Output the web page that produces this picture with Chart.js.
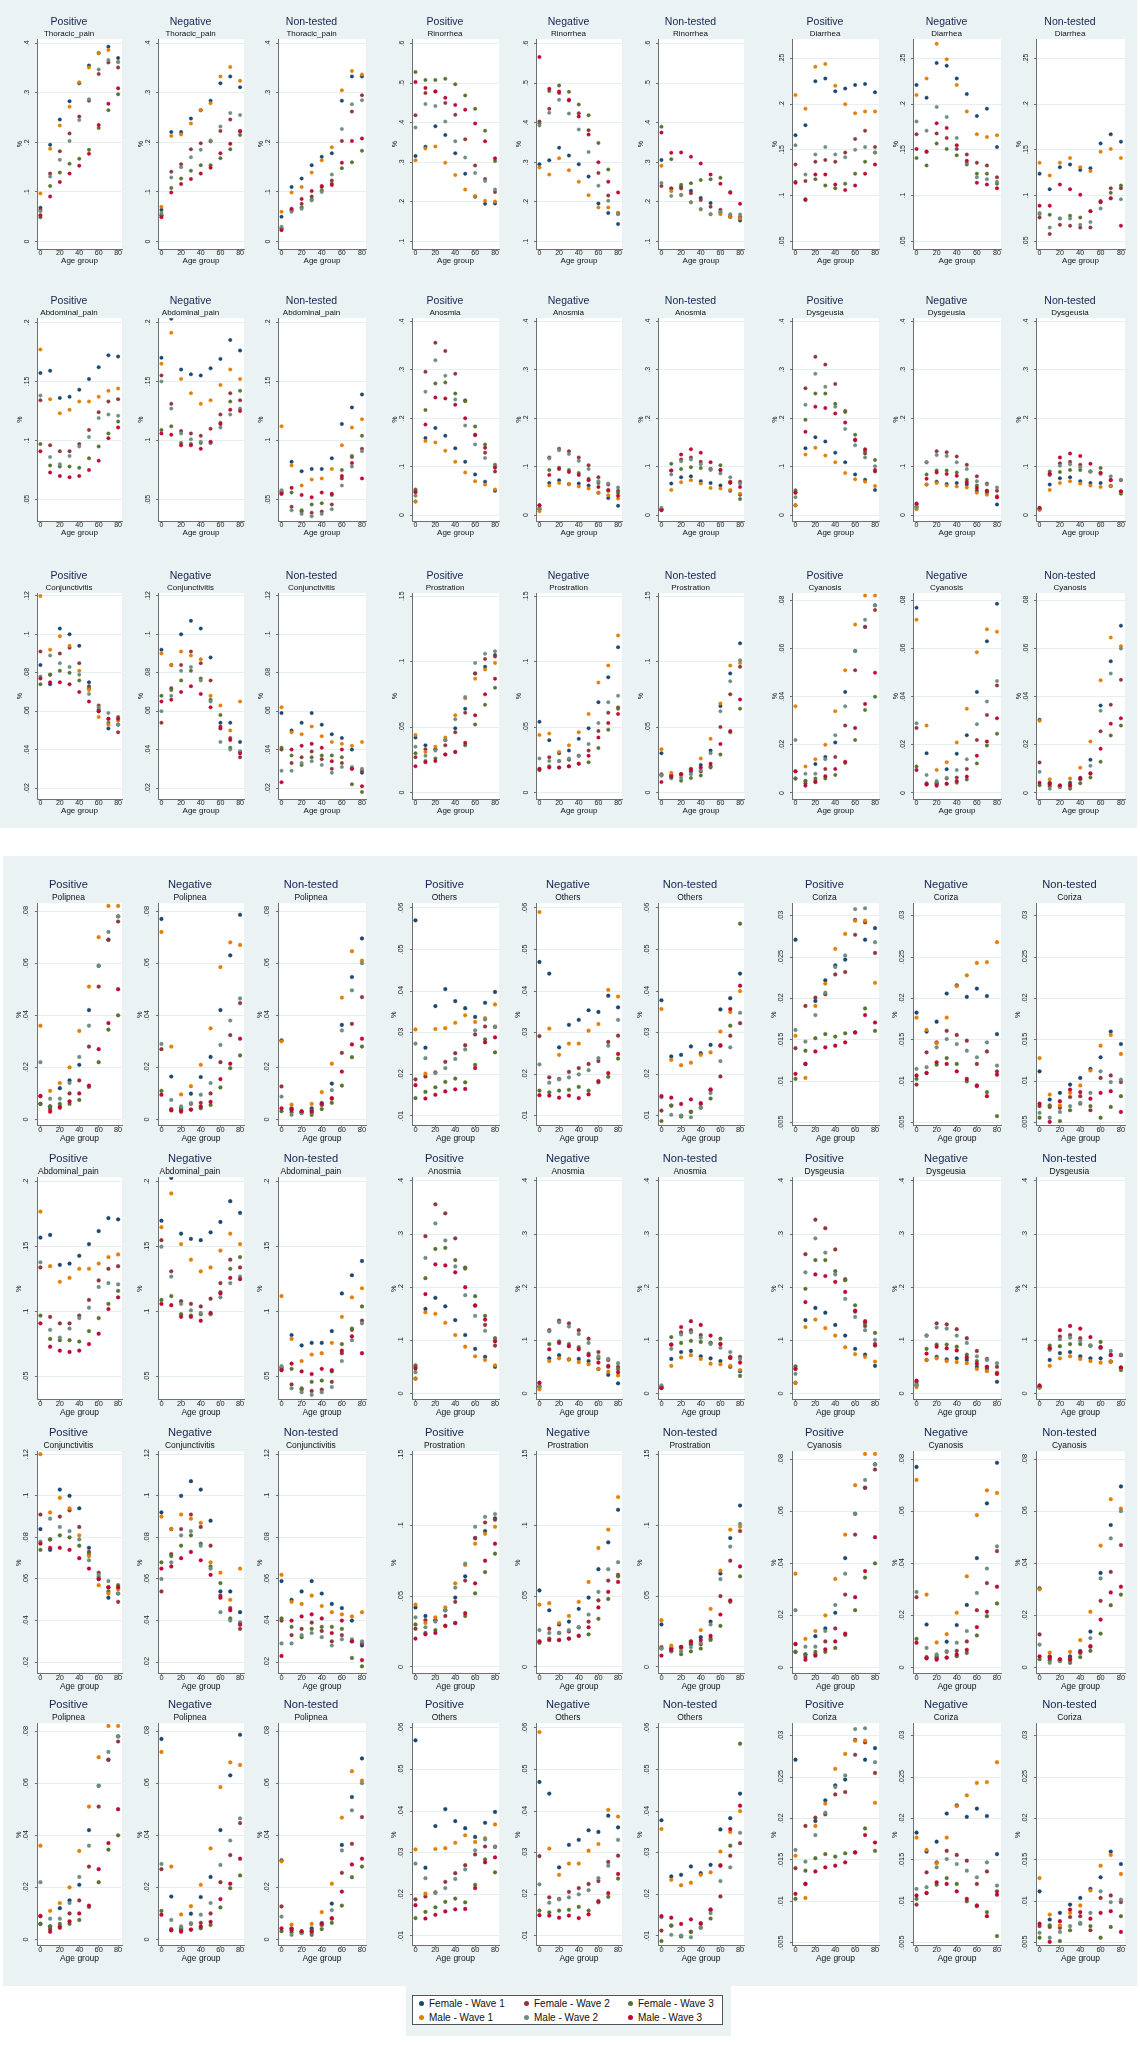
<!DOCTYPE html>
<html>
<head>
<meta charset="utf-8">
<script src="https://cdn.jsdelivr.net/npm/chart.js@4.4.1/dist/chart.umd.min.js"></script>
<style>
  body { margin: 0; width: 1140px; height: 2049px; position: relative; background: #fff; overflow: hidden;
         font-family: "Liberation Sans", Arial, sans-serif; }
  .block { position: absolute; background: #eaf2f3; }
  canvas.panel { position: absolute; }
  #legend { position: absolute; left: 412px; top: 1995px; width: 311px; height: 30px; background: #fff;
            border: 1px solid #555; box-sizing: border-box; display: grid;
            grid-template-columns: 105px 104px 100px; grid-template-rows: 14px 14px; padding: 1px 0 0 4px; }
  #legend div { font-size: 10px; line-height: 14px; color: #111; white-space: nowrap; }
  #legend span { display: inline-block; width: 5px; height: 5px; border-radius: 50%; margin: 0 5px 1px 2px; vertical-align: middle; }
</style>
</head>
<body>
<div class="block" style="left:0;top:0;width:1137px;height:828px"></div>
<div class="block" style="left:3px;top:856px;width:1134px;height:1130px"></div>
<div class="block" style="left:406px;top:1986px;width:325px;height:50px"></div>
<div id="legend"></div>
<script>
// age groups on the x axis and the six series
const AGE_GROUPS = [0, 10, 20, 30, 40, 50, 60, 70, 80];
const AGE_TICKS = [0, 20, 40, 60, 80];
const SERIES = ['Female - Wave 1', 'Female - Wave 2', 'Female - Wave 3', 'Male - Wave 1', 'Male - Wave 2', 'Male - Wave 3'];
const STATUS = ['Positive', 'Negative', 'Non-tested'];

// each array: 6 series (F1, F2, F3, M1, M2, M3) x 9 age groups
const thoracicPos = [
  [.068,.195,.246,.283,.319,.355,.380,.393,.370],
  [.064,.137,.182,.218,.252,.284,.338,.361,.351],
  [.049,.112,.139,.157,.167,.185,.229,.265,.297],
  [.097,.187,.234,.272,.321,.351,.380,.386,.362],
  [.061,.131,.165,.203,.245,.287,.347,.366,.362],
  [.053,.091,.120,.137,.153,.177,.235,.278,.309]];
const thoracicNeg = [
  [.064,.221,.221,.248,.265,.284,.319,.333,.311],
  [.053,.141,.156,.186,.198,.202,.223,.246,.222],
  [.053,.108,.127,.143,.154,.154,.168,.186,.215],
  [.070,.213,.216,.238,.265,.279,.333,.352,.324],
  [.058,.129,.150,.170,.185,.204,.232,.259,.255],
  [.049,.099,.116,.126,.137,.149,.178,.197,.223]];
const thoracicNon = [
  [.050,.110,.127,.154,.171,.178,.284,.333,.333],
  [.026,.064,.076,.091,.110,.123,.203,.262,.295],
  [.027,.062,.069,.085,.103,.117,.148,.160,.183],
  [.060,.099,.110,.139,.164,.190,.305,.344,.337],
  [.030,.060,.066,.083,.100,.135,.227,.277,.285],
  [.023,.066,.086,.102,.112,.114,.159,.203,.208]];

const rinorrheaPos = [
  [.316,.339,.391,.369,.323,.271,.213,.195,.196],
  [.419,.475,.479,.450,.420,.358,.292,.258,.225],
  [.528,.508,.508,.511,.497,.469,.435,.380,.303],
  [.305,.335,.340,.299,.268,.231,.215,.203,.201],
  [.388,.447,.442,.403,.353,.312,.273,.253,.231],
  [.503,.488,.479,.463,.445,.433,.398,.353,.310]];
const rinorrheaNeg = [
  [.295,.305,.337,.317,.295,.264,.196,.172,.144],
  [.403,.435,.475,.456,.424,.381,.273,.216,.172],
  [.398,.480,.494,.478,.446,.419,.349,.282,.170],
  [.287,.269,.310,.280,.251,.217,.186,.186,.172],
  [.393,.425,.458,.423,.383,.326,.241,.203,.169],
  [.566,.486,.479,.458,.416,.370,.300,.251,.224]];
const rinorrheaNon = [
  [.306,.234,.238,.228,.210,.197,.173,.162,.153],
  [.240,.234,.234,.222,.205,.188,.180,.164,.162],
  [.390,.308,.243,.247,.255,.257,.261,.225,.159],
  [.291,.227,.217,.199,.181,.169,.169,.162,.158],
  [.248,.215,.218,.199,.182,.169,.175,.169,.168],
  [.375,.324,.325,.314,.297,.269,.246,.223,.195]];

const diarrheaPos = [
  [.166,.177,.225,.228,.214,.217,.221,.222,.213],
  [.134,.116,.137,.139,.137,.147,.162,.171,.153],
  [.115,.095,.118,.111,.108,.113,.124,.137,.147],
  [.210,.195,.241,.244,.220,.200,.190,.192,.192],
  [.155,.123,.145,.153,.145,.142,.150,.153,.147],
  [.114,.096,.123,.123,.112,.106,.111,.124,.134]];
const diarrheaNeg = [
  [.221,.207,.245,.242,.228,.211,.187,.195,.153],
  [.167,.148,.168,.163,.151,.145,.136,.133,.120],
  [.141,.133,.157,.151,.144,.134,.124,.124,.113],
  [.210,.228,.266,.249,.221,.192,.167,.164,.166],
  [.181,.171,.197,.186,.163,.136,.120,.118,.115],
  [.151,.148,.179,.174,.155,.138,.114,.112,.108]];
const diarrheaNon = [
  [.124,.107,.131,.134,.128,.130,.157,.167,.159],
  [.076,.058,.068,.067,.065,.065,.094,.108,.108],
  [.080,.079,.075,.078,.076,.083,.093,.103,.111],
  [.136,.122,.136,.141,.131,.127,.148,.151,.141],
  [.081,.065,.075,.075,.068,.071,.086,.097,.096],
  [.089,.089,.112,.107,.101,.083,.093,.097,.067]];

const abdominalPos = [
  [.157,.159,.136,.137,.143,.152,.162,.172,.171],
  [.134,.096,.091,.091,.097,.109,.124,.133,.135],
  [.097,.079,.078,.078,.077,.085,.095,.106,.116],
  [.177,.135,.123,.126,.133,.133,.137,.142,.144],
  [.138,.086,.080,.087,.095,.103,.119,.122,.121],
  [.091,.073,.070,.069,.070,.075,.083,.102,.111]];
const abdominalNeg = [
  [.170,.203,.160,.156,.155,.161,.169,.185,.176],
  [.155,.131,.108,.106,.104,.110,.122,.140,.134],
  [.109,.112,.098,.097,.098,.098,.115,.133,.142],
  [.165,.191,.152,.140,.131,.134,.147,.160,.152],
  [.150,.127,.106,.101,.099,.098,.111,.122,.127],
  [.106,.105,.096,.096,.093,.099,.114,.126,.125]];
const abdominalNon = [
  [.057,.082,.074,.076,.076,.085,.114,.128,.139],
  [.055,.044,.040,.039,.040,.046,.068,.086,.093],
  [.056,.056,.041,.046,.047,.054,.075,.087,.104],
  [.112,.079,.062,.067,.068,.076,.096,.111,.118],
  [.058,.041,.038,.036,.038,.042,.062,.078,.091],
  [.055,.060,.054,.052,.056,.055,.070,.081,.068]];

const anosmiaPos = [
  [.028,.159,.180,.164,.138,.110,.084,.069,.050],
  [.050,.296,.356,.339,.292,.237,.165,.129,.090],
  [.053,.217,.272,.274,.251,.235,.183,.146,.104],
  [.028,.153,.150,.133,.110,.088,.070,.063,.053],
  [.040,.255,.320,.288,.239,.185,.146,.118,.100],
  [.047,.187,.243,.241,.228,.200,.166,.139,.098]];
const anosmiaNeg = [
  [.013,.066,.072,.064,.065,.061,.046,.035,.019],
  [.020,.119,.137,.132,.119,.103,.078,.063,.050],
  [.012,.093,.098,.093,.087,.075,.066,.050,.046],
  [.008,.061,.066,.064,.059,.055,.046,.041,.034],
  [.015,.117,.134,.126,.112,.095,.070,.065,.057],
  [.020,.083,.095,.089,.083,.072,.058,.052,.040]];
const anosmiaNon = [
  [.012,.065,.078,.080,.070,.066,.061,.050,.042],
  [.011,.092,.115,.119,.110,.095,.093,.069,.069],
  [.012,.106,.095,.099,.097,.095,.103,.067,.033],
  [.012,.052,.068,.072,.065,.056,.055,.052,.044],
  [.015,.084,.111,.115,.105,.093,.086,.078,.065],
  [.010,.092,.125,.136,.129,.109,.093,.067,.058]];

const dysgeusiaPos = [
  [.020,.138,.161,.152,.129,.109,.084,.073,.052],
  [.047,.262,.327,.311,.271,.215,.154,.127,.090],
  [.051,.197,.251,.251,.230,.213,.166,.132,.114],
  [.020,.125,.139,.123,.109,.087,.074,.069,.060],
  [.037,.228,.292,.265,.224,.178,.144,.119,.101],
  [.046,.172,.224,.221,.210,.191,.156,.136,.093]];
const dysgeusiaNeg = [
  [.015,.063,.069,.064,.066,.063,.050,.046,.022],
  [.022,.109,.132,.130,.121,.104,.080,.065,.050],
  [.018,.084,.092,.092,.088,.073,.061,.050,.039],
  [.012,.063,.066,.061,.059,.057,.046,.042,.037],
  [.016,.109,.124,.122,.109,.095,.070,.063,.057],
  [.024,.075,.088,.085,.081,.068,.056,.050,.037]];
const dysgeusiaNon = [
  [.011,.063,.076,.078,.070,.066,.066,.060,.048],
  [.013,.085,.107,.110,.104,.090,.087,.073,.072],
  [.013,.090,.089,.093,.093,.090,.097,.060,.044],
  [.012,.052,.066,.070,.065,.061,.058,.060,.048],
  [.014,.082,.102,.105,.099,.090,.085,.080,.073],
  [.015,.085,.119,.127,.122,.106,.087,.072,.049]];

const conjunctivitisPos = [
  [.084,.074,.103,.100,.094,.075,.060,.051,.053],
  [.091,.079,.090,.093,.085,.073,.063,.056,.049],
  [.074,.079,.081,.080,.076,.072,.061,.054,.057],
  [.120,.092,.099,.094,.081,.071,.057,.053,.055],
  [.078,.089,.085,.083,.079,.069,.062,.059,.053],
  [.077,.075,.075,.074,.070,.065,.060,.056,.056]];
const conjunctivitisNeg = [
  [.092,.084,.100,.107,.103,.088,.054,.054,.044],
  [.054,.072,.084,.091,.085,.076,.052,.046,.036],
  [.068,.071,.076,.081,.077,.066,.058,.041,.039],
  [.090,.084,.091,.089,.087,.068,.063,.050,.065],
  [.060,.068,.081,.083,.076,.065,.044,.040,.039],
  [.065,.066,.070,.073,.069,.062,.051,.045,.038]];
const conjunctivitisNon = [
  [.059,.050,.054,.059,.053,.048,.046,.040,.028],
  [.040,.033,.036,.039,.035,.030,.033,.030,.029],
  [.041,.037,.032,.036,.037,.037,.036,.022,.018],
  [.062,.049,.048,.052,.047,.044,.043,.042,.044],
  [.029,.029,.033,.034,.032,.028,.031,.031,.030],
  [.023,.040,.042,.043,.041,.034,.040,.030,.021]];

const prostrationPos = [
  [.042,.036,.033,.040,.049,.064,.091,.096,.105],
  [.027,.033,.033,.036,.046,.061,.091,.102,.104],
  [.030,.024,.026,.029,.031,.036,.052,.067,.080],
  [.044,.031,.035,.042,.059,.072,.087,.094,.099],
  [.035,.028,.032,.040,.056,.073,.099,.106,.108],
  [.020,.023,.024,.029,.031,.038,.059,.075,.087]];
const prostrationNeg = [
  [.054,.040,.030,.032,.041,.049,.069,.088,.111],
  [.018,.027,.024,.025,.028,.032,.047,.061,.065],
  [.017,.020,.019,.020,.022,.023,.034,.048,.064],
  [.044,.045,.031,.036,.046,.060,.084,.097,.120],
  [.026,.024,.024,.026,.028,.037,.053,.069,.074],
  [.018,.019,.019,.020,.022,.028,.042,.053,.060]];
const prostrationNon = [
  [.030,.013,.014,.016,.021,.032,.066,.091,.114],
  [.014,.013,.014,.017,.016,.020,.050,.075,.096],
  [.013,.011,.009,.011,.013,.019,.029,.046,.064],
  [.033,.015,.013,.018,.026,.041,.068,.097,.099],
  [.013,.011,.011,.014,.017,.030,.062,.085,.101],
  [.008,.012,.014,.018,.019,.022,.037,.047,.071]];

const cyanosisPos = [
  [.006,.005,.012,.015,.021,.042,.059,.069,.078],
  [.009,.004,.005,.010,.015,.028,.051,.069,.076],
  [.006,.005,.006,.006,.0075,.0125,.022,.0345,.040],
  [.036,.011,.014,.020,.034,.051,.070,.082,.082],
  [.022,.008,.008,.014,.024,.036,.059,.072,.078],
  [.009,.003,.0045,.007,.010,.013,.027,.037,.050]];
const cyanosisNeg = [
  [.077,.0165,.004,.0099,.0163,.024,.042,.063,.0786],
  [.027,.004,.0035,.006,.0064,.010,.022,.0324,.0447],
  [.011,.0036,.0045,.0038,.0043,.0056,.0123,.0197,.0246],
  [.072,.028,.0096,.0128,.021,.035,.0585,.068,.067],
  [.029,.0075,.005,.0063,.0095,.014,.0286,.038,.0465],
  [.0095,.0035,.003,.0038,.005,.0068,.0155,.0214,.031]];
const cyanosisNon = [
  [.0304,.0043,.0028,.0043,.0063,.0138,.0363,.0547,.0695],
  [.0127,.004,.0029,.0035,.0056,.008,.0256,.0367,.047],
  [.0032,.0028,.0025,.0018,.004,.0064,.013,.0239,.028],
  [.030,.0057,.0028,.006,.0105,.0214,.0468,.0646,.061],
  [.0088,.0018,.0025,.0025,.0057,.0113,.0342,.0496,.060],
  [.0043,.0036,.0032,.003,.006,.0082,.0184,.0288,.031]];

// the Polipnea panels show the same points as Cyanosis in the figure
const polipneaPos = cyanosisPos;
const polipneaNeg = cyanosisNeg;
const polipneaNon = cyanosisNon;

const othersPos = [
  [.057,.0264,.0364,.0405,.0376,.0359,.0338,.0372,.0398],
  [.0188,.0195,.0205,.0230,.0251,.0270,.0296,.0315,.0314],
  [.0143,.0158,.0169,.0182,.0190,.0181,.0223,.0284,.0253],
  [.0308,.0202,.0309,.0311,.0324,.0342,.0326,.0335,.0368],
  [.0274,.0239,.0203,.0215,.0237,.0260,.0306,.0332,.0315],
  [.0174,.0142,.0151,.0159,.0164,.0165,.0215,.0277,.0289]];
const othersNeg = [
  [.047,.0442,.0265,.0319,.0331,.0354,.0350,.0389,.0361],
  [.0292,.0193,.0189,.0206,.0215,.0225,.0232,.0278,.0293],
  [.0161,.0157,.0161,.0163,.0170,.0161,.0181,.0194,.0238],
  [.059,.0310,.0247,.0274,.0274,.0305,.0321,.0403,.0387],
  [.0224,.0180,.0188,.0193,.0200,.0210,.0239,.0269,.0331],
  [.0150,.0149,.0144,.0149,.0143,.0152,.0184,.0203,.0249]];
const othersNon = [
  [.0378,.0243,.0247,.0267,.0251,.0271,.0356,.0383,.0442],
  [.0113,.0125,.0100,.0110,.0129,.0162,.0195,.0293,.0323],
  [.0088,.0125,.0099,.0110,.0120,.0142,.0270,.0317,.0562],
  [.0357,.0235,.0222,.0228,.0247,.0253,.0303,.0350,.0400],
  [.0145,.0103,.0101,.0097,.0120,.0155,.0232,.0265,.0348],
  [.0148,.0144,.0129,.0140,.0131,.0164,.0269,.0357,.0413]];

const corizaPos = [
  [.0271,.0121,.0197,.0222,.0240,.0247,.0295,.0271,.0285],
  [.0140,.0191,.0201,.0205,.0229,.0232,.0277,.0292,.0255],
  [.0103,.0137,.0152,.0157,.0154,.0158,.0159,.0188,.0161],
  [.0155,.0104,.0191,.0218,.0260,.0278,.0294,.0294,.0219],
  [.0162,.0148,.0180,.0207,.0238,.0252,.0308,.0309,.0268],
  [.0109,.0121,.0136,.0141,.0143,.0147,.0159,.0180,.0171]];
const corizaNeg = [
  [.0183,.0160,.0172,.0206,.0216,.0202,.0212,.0203,.0157],
  [.0096,.0135,.0147,.0161,.0156,.0149,.0121,.0136,.0112],
  [.0103,.0110,.0120,.0128,.0121,.0100,.0094,.0087,.0058],
  [.0177,.0162,.0146,.0177,.0215,.0228,.0243,.0244,.0268],
  [.0115,.0117,.0141,.0151,.0145,.0137,.0129,.0147,.0119],
  [.0107,.0110,.0123,.0121,.0112,.0103,.0095,.0082,.0108]];
const corizaNon = [
  [.0112,.0078,.0086,.0096,.0104,.0115,.0129,.0160,.0145],
  [.0070,.0069,.0068,.0081,.0082,.0065,.0104,.0107,.0099],
  [.0056,.0071,.0052,.0065,.0073,.0070,.0056,.0069,.0082],
  [.0128,.0084,.0071,.0086,.0095,.0113,.0143,.0156,.0133],
  [.0062,.0056,.0063,.0070,.0074,.0086,.0112,.0099,.0102],
  [.0073,.0051,.0076,.0090,.0087,.0079,.0086,.0088,.0063]];

// y axis ticks and extent for each symptom (shared by its three panels)
const thoracicTicks = [0, .1, .2, .3, .4],                 thoracicRange = [-.015, .408];
const rinorrheaTicks = [.1, .2, .3, .4, .5, .6],           rinorrheaRange = [.081, .611];
const diarrheaTicks = [.05, .1, .15, .2, .25],             diarrheaRange = [.0416, .271];
const abdominalTicks = [.05, .1, .15, .2],                 abdominalRange = [.032, .2034];
const anosmiaTicks = [0, .1, .2, .3, .4],                  anosmiaRange = [-.0123, .4068];
const conjunctivitisTicks = [.02, .04, .06, .08, .1, .12], conjunctivitisRange = [.0143, .1214];
const prostrationTicks = [0, .05, .1, .15],                prostrationRange = [-.005, .1523];
const cyanosisTicks = [0, .02, .04, .06, .08],             cyanosisRange = [-.0025, .0830];
const othersTicks = [.01, .02, .03, .04, .05, .06],        othersRange = [.0076, .0611];
const corizaTicks = [.005, .01, .015, .02, .025, .03],     corizaRange = [.0046, .0315];

const SYMPTOMS = {
  Thoracic_pain:  { sets: [thoracicPos, thoracicNeg, thoracicNon], ticks: thoracicTicks, range: thoracicRange },
  Rinorrhea:      { sets: [rinorrheaPos, rinorrheaNeg, rinorrheaNon], ticks: rinorrheaTicks, range: rinorrheaRange },
  Diarrhea:       { sets: [diarrheaPos, diarrheaNeg, diarrheaNon], ticks: diarrheaTicks, range: diarrheaRange },
  Abdominal_pain: { sets: [abdominalPos, abdominalNeg, abdominalNon], ticks: abdominalTicks, range: abdominalRange },
  Anosmia:        { sets: [anosmiaPos, anosmiaNeg, anosmiaNon], ticks: anosmiaTicks, range: anosmiaRange },
  Dysgeusia:      { sets: [dysgeusiaPos, dysgeusiaNeg, dysgeusiaNon], ticks: anosmiaTicks, range: anosmiaRange },
  Conjunctivitis: { sets: [conjunctivitisPos, conjunctivitisNeg, conjunctivitisNon], ticks: conjunctivitisTicks, range: conjunctivitisRange },
  Prostration:    { sets: [prostrationPos, prostrationNeg, prostrationNon], ticks: prostrationTicks, range: prostrationRange },
  Cyanosis:       { sets: [cyanosisPos, cyanosisNeg, cyanosisNon], ticks: cyanosisTicks, range: cyanosisRange },
  Polipnea:       { sets: [polipneaPos, polipneaNeg, polipneaNon], ticks: cyanosisTicks, range: cyanosisRange },
  Others:         { sets: [othersPos, othersNeg, othersNon], ticks: othersTicks, range: othersRange },
  Coriza:         { sets: [corizaPos, corizaNeg, corizaNon], ticks: corizaTicks, range: corizaRange }
};

const ROW_SYMPTOMS = [
  ['Thoracic_pain', 'Rinorrhea', 'Diarrhea'],
  ['Abdominal_pain', 'Anosmia', 'Dysgeusia'],
  ['Conjunctivitis', 'Prostration', 'Cyanosis'],
  ['Polipnea', 'Others', 'Coriza'],
  ['Abdominal_pain', 'Anosmia', 'Dysgeusia'],
  ['Conjunctivitis', 'Prostration', 'Cyanosis'],
  ['Polipnea', 'Others', 'Coriza']
];

// layout: plot area of each column (x) and row (top, height, scale)
const COLS = [[37,122],[158,244],[278,366],[412,499],[536,622],[658,744],[792,879],[913,1001],[1036,1125]];
const ROWS = [
  { top: 38,   h: 209, s: 1 },
  { top: 317,  h: 202, s: 1 },
  { top: 592,  h: 205, s: 1 },
  { top: 902,  h: 222, s: 1.06 },
  { top: 1176, h: 222, s: 1.06 },
  { top: 1450, h: 222, s: 1.06 },
  { top: 1722, h: 222, s: 1.06 }
];
const COLORS = ['#1a476f', '#90353b', '#55752f', '#e37e00', '#6e8e84', '#c10534'];
const FONT = '"Liberation Sans", Arial, sans-serif';
const AXIS = '#6f6f6f';
const GRID = '#e6eef0';

Chart.defaults.font.family = FONT;

const plotBg = {
  id: 'plotBg',
  beforeDraw(chart) {
    const { ctx, chartArea: a } = chart;
    ctx.save();
    ctx.fillStyle = '#fff';
    ctx.fillRect(a.left, a.top, a.right - a.left, a.bottom - a.top);
    ctx.restore();
  }
};

const measure = document.createElement('canvas').getContext('2d');
function fmt(v) {
  if (v === 0) return '0';
  return String(+v.toFixed(4)).replace(/^0\./, '.');
}

function makePanel(row, col, status, symptom) {
  const s = row.s;
  const info = SYMPTOMS[symptom];
  const [pl, pr] = COLS[col];
  const LEFT = 21 * s, RIGHT = 6, TOP = 26.3 * s, XH = 17 * s, BOT = 2;
  const left = Math.round(pl - LEFT), top = Math.round(row.top - TOP);
  const W = Math.round(pr - left + RIGHT), H = Math.round(row.top + row.h - top + XH + BOT);

  const canvas = document.createElement('canvas');
  canvas.className = 'panel';
  canvas.width = W; canvas.height = H;
  canvas.style.left = left + 'px'; canvas.style.top = top + 'px';
  document.body.appendChild(canvas);

  const tickSize = 7 * s;
  measure.font = tickSize + 'px ' + FONT;
  const widest = Math.max(...info.ticks.map(t => measure.measureText(fmt(t)).width));
  const yPad = 10 * s - 2 * s - widest / 2;

  const data = info.sets[status];
  new Chart(canvas, {
    type: 'scatter',
    data: {
      datasets: SERIES.map((name, i) => ({
        label: name,
        data: AGE_GROUPS.map((a, j) => ({ x: a, y: data[i][j] })),
        backgroundColor: COLORS[i],
        borderColor: COLORS[i],
        pointRadius: 1.75 * s,
        pointBorderWidth: 0.4,
        order: SERIES.length - i
      }))
    },
    options: {
      responsive: false,
      animation: false,
      events: [],
      layout: { padding: { left: (pl - LEFT) - left, right: RIGHT, top: (row.top - TOP) - top, bottom: 0 } },
      plugins: {
        legend: { display: false },
        tooltip: { enabled: false },
        title: {
          display: true, text: STATUS[status], color: '#13234f',
          font: { size: 10.5 * s, weight: 'normal', lineHeight: 1.2 },
          padding: { top: 4 * s, bottom: 0.5 * s }
        },
        subtitle: {
          display: true, text: symptom, color: '#111',
          font: { size: 8 * s, lineHeight: 1.2 },
          padding: { top: 0, bottom: 0.8 * s }
        }
      },
      scales: {
        x: {
          type: 'linear', min: -3.5, max: 84,
          afterBuildTicks: sc => { sc.ticks = AGE_TICKS.map(v => ({ value: v })); },
          afterFit: sc => { sc.height = XH; sc.paddingLeft = 0; sc.paddingRight = 0; },
          ticks: { font: { size: tickSize, lineHeight: 1 }, color: '#222', padding: -1 * s, maxRotation: 0, autoSkip: false },
          grid: { drawOnChartArea: false, drawTicks: true, tickLength: 1.5 * s, tickColor: AXIS },
          border: { color: AXIS, width: 1 },
          title: { display: true, text: 'Age group', color: '#111', font: { size: 8 * s, lineHeight: 1.2 }, padding: { top: 0, bottom: 0.3 * s } }
        },
        y: {
          type: 'linear', min: info.range[0], max: info.range[1],
          afterBuildTicks: sc => { sc.ticks = info.ticks.map(v => ({ value: v })); },
          afterFit: sc => { sc.width = LEFT; sc.paddingTop = 0; sc.paddingBottom = 0; },
          ticks: { font: { size: tickSize }, color: '#222', padding: yPad, minRotation: 90, maxRotation: 90,
                   crossAlign: 'center', autoSkip: false, callback: v => fmt(v) },
          grid: { color: GRID, lineWidth: 1, drawTicks: true, tickLength: 2 * s, tickColor: AXIS },
          border: { color: AXIS, width: 1 },
          title: { display: true, text: '%', color: '#111', font: { size: 7 * s, lineHeight: 1.2 }, padding: { top: 0, bottom: 0 } }
        }
      }
    },
    plugins: [plotBg]
  });
}

ROWS.forEach((row, r) => {
  ROW_SYMPTOMS[r].forEach((symptom, g) => {
    STATUS.forEach((st, k) => makePanel(row, g * 3 + k, k, symptom));
  });
});

// shared legend
const legend = document.getElementById('legend');
SERIES.forEach((name, i) => {
  const d = document.createElement('div');
  d.innerHTML = '<span style="background:' + COLORS[i] + '"></span>' + name;
  legend.appendChild(d);
});
</script>
</body>
</html>
